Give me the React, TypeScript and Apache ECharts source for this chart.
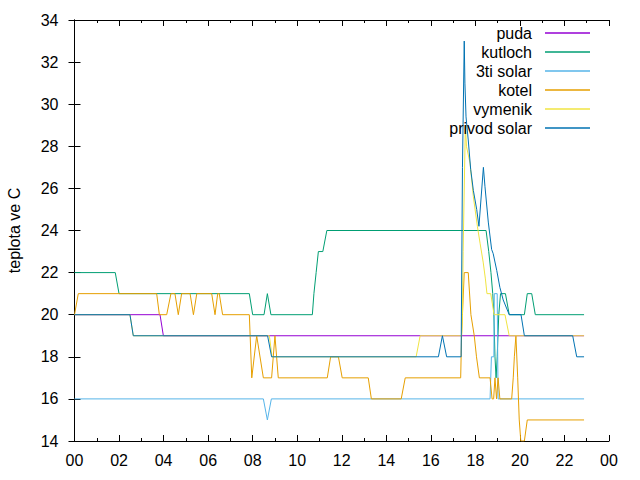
import React, { useEffect, useRef } from "react";
import * as echarts from "echarts";

const seriesNames = ["puda", "kutloch", "3ti solar", "kotel", "vymenik", "privod solar"];
const seriesColors = ["#9400d3", "#009e73", "#56b4e9", "#e69f00", "#f0e442", "#0072b2"];
const xTicks = ["00", "02", "04", "06", "08", "10", "12", "14", "16", "18", "20", "22", "00"];

// hours / temperature (°C)
const pudaT = [0, 3.84, 3.99, 22.88];
const pudaV = [20, 20, 19, 19];

const kutlochT = [0, 1.83, 2.0, 7.85, 8.0, 8.51, 8.66, 8.82, 10.68, 10.75, 10.85, 10.95, 11.15, 11.33, 18.48, 18.6, 18.7, 18.78, 18.83, 18.88, 18.93, 18.98, 19.05, 19.13, 19.35, 19.52, 20.2, 20.33, 20.53, 20.69, 22.88];
const kutlochV = [22, 22, 21, 21, 20, 20, 21, 20, 20, 21, 22, 23, 23, 24, 24, 23, 22, 21, 20, 18, 17, 18, 20, 21, 21, 20, 20, 21, 21, 20, 20];

const solar3T = [0, 8.48, 8.66, 8.84, 18.66, 18.72, 18.83, 18.85, 18.98, 19.02, 22.88];
const solar3V = [16, 16, 15, 16, 16, 18, 18, 21, 21, 16, 16];

const kotelT = [0, 0.17, 3.69, 3.81, 4.14, 4.33, 4.51, 4.66, 4.81, 5.19, 5.34, 5.49, 6.16, 6.31, 6.43, 6.5, 6.65, 7.85, 7.96, 8.18, 8.48, 8.85, 9.0, 9.15, 11.35, 11.5, 11.85, 12.02, 13.19, 13.33, 14.67, 14.85, 17.34, 17.38, 17.5, 17.68, 17.8, 17.95, 18.05, 18.18, 18.66, 18.75, 18.82, 18.88, 18.95, 19.02, 19.1, 19.63, 19.7, 19.75, 19.82, 19.9, 19.97, 20.04, 20.2, 20.33, 22.88];
const kotelV = [20, 21, 21, 20, 20, 21, 21, 20, 21, 21, 20, 21, 21, 20, 21, 21, 20, 20, 17, 19, 17, 17, 19, 17, 17, 18, 18, 17, 17, 16, 16, 17, 17, 19, 22, 22, 20, 19, 18, 17, 17, 16, 16, 17, 16, 17, 16, 16, 17, 18, 19, 17, 15, 14, 14, 15, 15];

const vymenikT = [0, 2.49, 2.64, 8.75, 8.87, 15.34, 15.52, 17.38, 17.42, 17.45, 17.55, 17.6, 17.76, 17.91, 18.09, 18.21, 18.35, 18.45, 18.52, 18.69, 18.84, 19.33, 19.52, 22.88];
const vymenikV = [20, 20, 19, 19, 18, 18, 19, 19, 20, 23, 29, 28, 27.2, 25.6, 24.2, 23.4, 22.5, 21.7, 21, 21, 20, 20, 19, 19];

const privodT = [0, 2.49, 2.64, 8.67, 8.85, 16.34, 16.52, 16.71, 17.36, 17.42, 17.5, 17.53, 17.58, 17.68, 17.79, 17.91, 18.06, 18.16, 18.36, 18.43, 18.58, 18.73, 18.8, 18.96, 19.1, 19.25, 19.52, 20.05, 20.2, 22.37, 22.55, 22.88];
const privodV = [20, 20, 19, 19, 18, 18, 19, 18, 18, 27, 33, 31, 29.4, 28.3, 26.9, 25.9, 25, 24.2, 27, 26.1, 24.4, 23.1, 22.9, 22.1, 21.3, 20.7, 20, 20, 19, 19, 18, 18];

const allT = [pudaT, kutlochT, solar3T, kotelT, vymenikT, privodT];
const allV = [pudaV, kutlochV, solar3V, kotelV, vymenikV, privodV];

const FONT = "Liberation Sans";

export default function App() {
  const ref = useRef<HTMLDivElement>(null);
  useEffect(() => {
    if (!ref.current) return;
    document.body.style.margin = "0";
    const chart = echarts.init(ref.current, undefined, { renderer: "svg" });
    const tickFmt = (v: number) => xTicks[Math.round(v / 2)] ?? "";
    const baseX = {
      type: "value" as const,
      min: 0,
      max: 24,
      interval: 2,
      axisLine: { show: true, lineStyle: { color: "#000", width: 1 } },
      axisTick: { show: true, inside: true, length: 6, lineStyle: { color: "#000" } },
      minorTick: { show: true, splitNumber: 2, length: 3, lineStyle: { color: "#000" } },
      splitLine: { show: false },
    };
    const baseY = {
      type: "value" as const,
      min: 14,
      max: 34,
      interval: 2,
      axisLine: { show: true, lineStyle: { color: "#000", width: 1 } },
      axisTick: { show: true, inside: true, length: 6, lineStyle: { color: "#000" } },
      splitLine: { show: false },
    };
    chart.setOption({
      animation: false,
      backgroundColor: "#fff",
      textStyle: { fontFamily: FONT },
      grid: { left: 74.5, right: 31, top: 20, bottom: 39, containLabel: false, outerBoundsMode: "none" },
      legend: {
        orient: "vertical",
        right: 45,
        top: 20,
        align: "right",
        itemWidth: 45,
        itemHeight: 1.3,
        itemGap: 3,
        icon: "rect",
        data: seriesNames,
        textStyle: { fontSize: 16, color: "#000", fontFamily: FONT, lineHeight: 16, padding: [0, 8, 0, 0] },
      },
      xAxis: [
        {
          ...baseX,
          position: "bottom",
          axisLabel: { show: true, formatter: tickFmt, fontSize: 16, color: "#000", fontFamily: FONT, margin: 11 },
        },
        {
          ...baseX,
          position: "top",
          axisLabel: { show: false },
        },
      ],
      yAxis: [
        {
          ...baseY,
          position: "left",
          name: "teplota ve C",
          nameLocation: "middle",
          nameGap: 52,
          nameTextStyle: { fontSize: 16, color: "#000", fontFamily: FONT },
          axisLabel: { show: true, fontSize: 16, color: "#000", fontFamily: FONT, margin: 16 },
        },
        {
          ...baseY,
          position: "right",
          axisLabel: { show: false },
        },
      ],
      series: seriesNames.map((name, i) => ({
        name,
        type: "line",
        xAxisIndex: 0,
        yAxisIndex: 0,
        symbol: "none",
        showSymbol: false,
        color: seriesColors[i],
        lineStyle: { color: seriesColors[i], width: 1 },
        data: allT[i].map((t, j) => [t, allV[i][j]]),
      })),
    });
    return () => chart.dispose();
  }, []);
  return <div ref={ref} style={{ width: 640, height: 480 }} />;
}
